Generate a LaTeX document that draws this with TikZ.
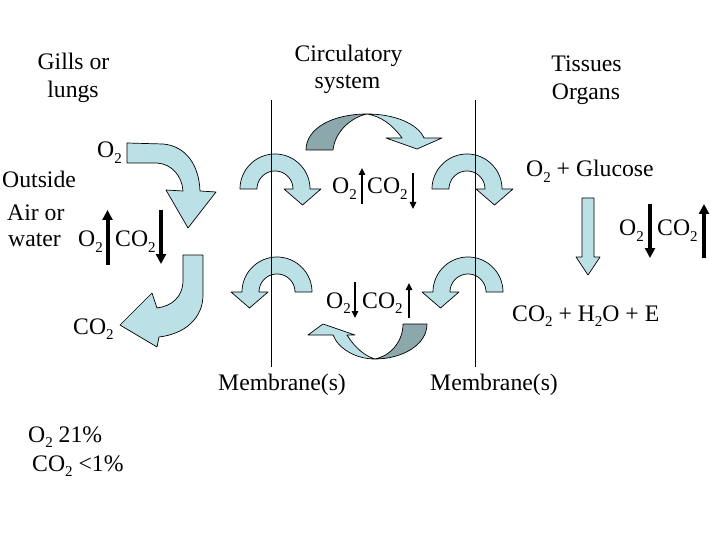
\documentclass[tikz,border=0pt]{standalone}
\usepackage{fontspec}
\setmainfont{Liberation Serif}
\usetikzlibrary{arrows.meta}
\definecolor{lblue}{RGB}{187,224,229}
\definecolor{dblue}{RGB}{140,168,172}
\newcommand\sub[1]{\raisebox{-5.5pt}{\fontsize{15}{15}\selectfont #1}}
\tikzset{
  band/.style={fill=lblue,draw=black,line width=0.7pt,line join=round},
  bandd/.style={fill=dblue,draw=black,line width=0.7pt,line join=round},
  ringarrow/.pic={
    \draw[band] (-35,0) -- plot[domain=180:0,samples=41] ({35*cos(\x)},{-35*sin(\x)})
      -- (46,0) -- (27.5,16) -- (9,0) -- (18,0)
      -- plot[domain=0:180,samples=41] ({18*cos(\x)},{-18*sin(\x)}) -- cycle;
  }
}
\begin{document}
\begin{tikzpicture}[x=1pt,y=-1pt,
  every node/.style={inner sep=0pt,font=\fontsize{23.7}{28}\selectfont},
  lab/.style={anchor=base west},
  labc/.style={anchor=base},
  thinarrow/.style={line width=1.3pt,-{Triangle[width=6.5pt,length=7pt]}},
  thickarrow/.style={line width=4pt,-{Triangle[width=10pt,length=10pt]}},
  membrane/.style={line width=0.8pt}]
\path[use as bounding box] (0,0) rectangle (720,540);

% ---- titles
\node[labc] (gills1) at (73.5,70) {Gills or};
\node[labc] (gills2) at (73,98) {lungs};
\node[labc] (circ1) at (348.5,62) {Circulatory};
\node[labc] (circ2) at (347.5,89) {system};
\node[labc] (tis1) at (586.5,72) {Tissues};
\node[labc] (tis2) at (586,100) {Organs};

% ---- gills side
\node[lab] (o2in) at (97,158) {O\sub{2}};
\node[lab] (out1) at (2,188) {Outside};
\node[lab] (out2) at (7,221) {Air or};
\node[lab] (out3) at (8,247) {water};
\node[lab] (o2g) at (78,247) {O\sub{2}};
\node[lab] (co2g) at (115,247) {CO\sub{2}};
\node[lab] (co2out) at (73,334) {CO\sub{2}};
\node[lab] (air1) at (28,442) {O\sub{2} 21\%};
\node[lab] (air2) at (32,471) {CO\sub{2} <1\%};

\coordinate (gA1) at (107.5,265); \coordinate (gA2) at (107.5,210);
\coordinate (gB1) at (161,210);   \coordinate (gB2) at (161,264);
\draw[thickarrow] (gA1) -- (gA2);
\draw[thickarrow] (gB1) -- (gB2);

% big gill arrows
\draw[band] (127,143) -- (163,144) .. controls (186,146) and (199,165) .. (200,191)
  -- (216,192) -- (188,228) -- (166,190) -- (183,191)
  .. controls (182,176) and (172,164) .. (157,163) -- (127,163) -- cycle;
\draw[band] (183,255) -- (203,255) -- (203,295) .. controls (203,318) and (185,334) .. (159,337)
  -- (157,347) -- (120,325) -- (152,293) -- (157,308)
  .. controls (172,306) and (183,297) .. (183,280) -- cycle;

% ---- circulatory arcs
\draw[bandd] (306,150) .. controls (306,128) and (333,114) .. (367,114)
  .. controls (352,117) and (335,131) .. (333,150) -- cycle;
\draw[band] (367,114) .. controls (395,114) and (418,124) .. (424,138)
  -- (442,138) -- (417,149) -- (386,138) -- (402,138)
  .. controls (392,124) and (380,116) .. (367,114) -- cycle;

\draw[bandd] (427,324) .. controls (427,345) and (402,359) .. (375,359)
  .. controls (390,356) and (403,342) .. (403,324) -- cycle;
\draw[band] (375,359) .. controls (355,359) and (338,348) .. (333,335)
  -- (308,335) -- (323,324) -- (355,335) -- (347,335)
  .. controls (355,348) and (365,356) .. (375,359) -- cycle;

% ---- membrane ring arrows
\pic at (275,189) {ringarrow};
\pic at (467,189) {ringarrow};
\pic[xscale=-1] at (277,292) {ringarrow};
\pic[xscale=-1] at (468,292) {ringarrow};

% ---- membranes
\coordinate (m1t) at (271,100); \coordinate (m1b) at (271,367);
\coordinate (m2t) at (475,100); \coordinate (m2b) at (475,367);
\draw[membrane] (m1t) -- (m1b);
\draw[membrane] (m2t) -- (m2b);
\node[lab] (mem1) at (218,390) {Membrane(s)};
\node[lab] (mem2) at (430,390) {Membrane(s)};

% ---- middle exchanges
\node[lab] (o2m1) at (332,194) {O\sub{2}};
\node[lab] (co2m1) at (367,194) {CO\sub{2}};
\coordinate (mA1) at (362,204); \coordinate (mA2) at (362,168);
\coordinate (mB1) at (413,173); \coordinate (mB2) at (413,209);
\draw[thinarrow] (mA1) -- (mA2);
\draw[thinarrow] (mB1) -- (mB2);

\node[lab] (o2m2) at (326,308) {O\sub{2}};
\node[lab] (co2m2) at (362,308) {CO\sub{2}};
\coordinate (nA1) at (355,282); \coordinate (nA2) at (355,318);
\coordinate (nB1) at (409,318); \coordinate (nB2) at (409,283);
\draw[thinarrow] (nA1) -- (nA2);
\draw[thinarrow] (nB1) -- (nB2);

% ---- tissues
\node[lab] (gluc) at (526,177) {O\sub{2} + Glucose};
\node[lab] (prod) at (512,321) {CO\sub{2} + H\sub{2}O + E};
\draw[band] (582,198) -- (594,198) -- (594,257) -- (600,257) -- (588,275) -- (576,257) -- (582,257) -- cycle;
\node[lab] (o2t) at (619,236) {O\sub{2}};
\node[lab] (co2t) at (657,236) {CO\sub{2}};
\coordinate (tA1) at (650,204); \coordinate (tA2) at (650,258);
\coordinate (tB1) at (704,258); \coordinate (tB2) at (704,204);
\draw[thickarrow] (tA1) -- (tA2);
\draw[thickarrow] (tB1) -- (tB2);
\end{tikzpicture}
\end{document}
